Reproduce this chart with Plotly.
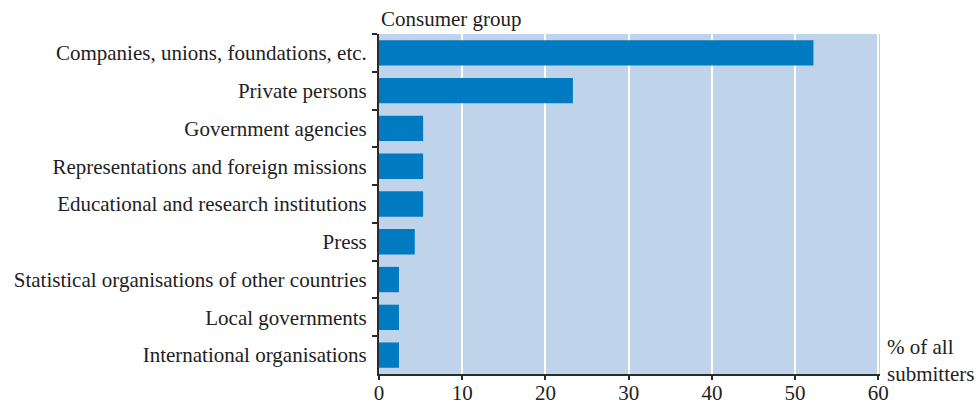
import plotly.graph_objects as go

categories = [
    "Companies, unions, foundations, etc.",
    "Private persons",
    "Government agencies",
    "Representations and foreign missions",
    "Educational and research institutions",
    "Press",
    "Statistical organisations of other countries",
    "Local governments",
    "International organisations",
]
share_pct = [52.2, 23.3, 5.3, 5.3, 5.3, 4.3, 2.4, 2.4, 2.4]

FONT = "Liberation Serif"
AXIS_COLOR = "#2b2b2b"
TEXT_COLOR = "#222"
FSIZE = 21

fig = go.Figure(
    go.Bar(
        x=share_pct,
        y=categories,
        orientation="h",
        marker=dict(color="#007bc2", line=dict(width=0)),
        hoverinfo="x+y",
    )
)

fig.update_layout(
    width=979,
    height=408,
    margin=dict(l=379, r=99, t=34, b=34, autoexpand=False),
    paper_bgcolor="white",
    plot_bgcolor="#bfd3eb",
    bargap=0.33,
    showlegend=False,
    font=dict(family=FONT, size=FSIZE, color=TEXT_COLOR),
    annotations=[
        dict(
            text="Consumer group",
            xref="paper", yref="paper",
            x=0, y=1, xanchor="left", yanchor="bottom", yshift=1,
            showarrow=False, font=dict(family=FONT, size=FSIZE, color=TEXT_COLOR),
        ),
        dict(
            text="% of all<br>submitters",
            xref="paper", yref="paper",
            x=1, y=0, xanchor="left", yanchor="bottom", xshift=5, yshift=-14,
            align="left", showarrow=False,
            font=dict(family=FONT, size=FSIZE, color=TEXT_COLOR),
        ),
    ],
)

fig.update_xaxes(
    range=[0, 60.2],
    tickvals=[0, 10, 20, 30, 40, 50, 60],
    showgrid=True,
    gridcolor="white",
    gridwidth=1.5,
    zeroline=False,
    showline=True,
    linecolor=AXIS_COLOR,
    linewidth=2,
    ticks="outside",
    ticklen=4,
    tickwidth=2,
    tickcolor=AXIS_COLOR,
    ticklabelstandoff=-5,
    automargin=False,
    tickfont=dict(family=FONT, size=FSIZE, color=TEXT_COLOR),
)

fig.update_yaxes(
    autorange="reversed",
    showgrid=False,
    showline=True,
    linecolor=AXIS_COLOR,
    linewidth=2,
    ticks="outside",
    tickson="boundaries",
    ticklen=5,
    tickwidth=2,
    tickcolor=AXIS_COLOR,
    ticklabelstandoff=6,
    automargin=False,
    tickfont=dict(family=FONT, size=FSIZE, color=TEXT_COLOR),
)

fig.write_html(
    "out.html",
    config={"displayModeBar": False},
    post_script="document.body.style.margin='0';",
)
